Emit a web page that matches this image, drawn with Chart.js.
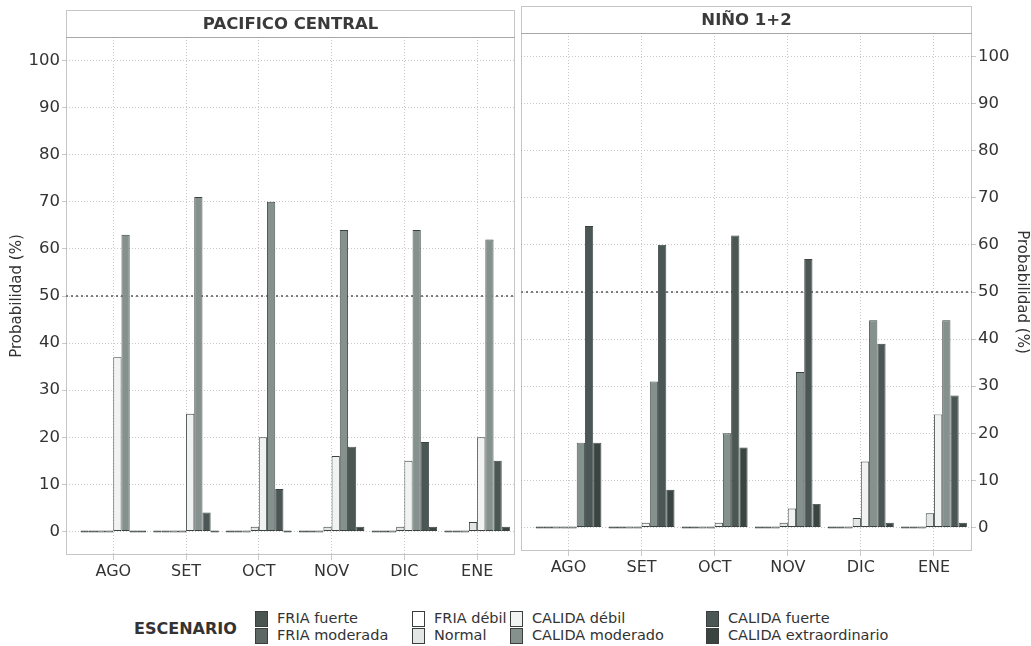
<!DOCTYPE html>
<html>
<head>
<meta charset="utf-8">
<script src="https://cdn.jsdelivr.net/npm/chart.js@4.4.0/dist/chart.umd.min.js"></script>
<style>
  body { margin: 0; background: #fff; width: 1031px; height: 646px; overflow: hidden; position: relative; font-family: "DejaVu Sans", sans-serif; color: #333; }
  #left { position: absolute; left: 0; top: 0; }
  #right { position: absolute; left: 520px; top: -4px; }
  #legTitle { position: absolute; left: 134px; top: 619px; font-weight: bold; font-size: 16px; }
  .legCol { position: absolute; top: 610px; display: flex; }
  .legBoxes { display: flex; flex-direction: column; margin-top: 1px; }
  .legBox { width: 11px; height: 14px; border: 1px solid #3a3f3e; margin-bottom: 1px; }
  .legText { margin-left: 9px; font-size: 14.5px; line-height: 17px; }
</style>
</head>
<body>
<canvas id="left" width="520" height="590"></canvas>
<canvas id="right" width="511" height="590"></canvas>
<div id="legTitle">ESCENARIO</div>
<div id="legend"></div>
<script>
const months = ["AGO", "SET", "OCT", "NOV", "DIC", "ENE"];
const scenarios = ["FRIA fuerte", "FRIA moderada", "FRIA débil", "Normal",
                   "CALIDA débil", "CALIDA moderado", "CALIDA fuerte", "CALIDA extraordinario"];
const yTicks = [0, 10, 20, 30, 40, 50, 60, 70, 80, 90, 100];

// Pacifico Central
const pcFriaFuerte    = [0, 0, 0, 0, 0, 0];
const pcFriaModerada  = [0, 0, 0, 0, 0, 0];
const pcFriaDebil     = [0, 0, 0, 0, 0, 0];
const pcNormal        = [0, 0, 1, 1, 1, 2];
const pcCalidaDebil   = [37, 25, 20, 16, 15, 20];
const pcCalidaModerado = [63, 71, 70, 64, 64, 62];
const pcCalidaFuerte  = [0, 4, 9, 18, 19, 15];
const pcCalidaExtra   = [0, 0, 0, 1, 1, 1];

// Niño 1+2
const n12FriaFuerte    = [0, 0, 0, 0, 0, 0];
const n12FriaModerada  = [0, 0, 0, 0, 0, 0];
const n12FriaDebil     = [0, 0, 0, 0, 0, 0];
const n12Normal        = [0, 0, 0, 1, 2, 3];
const n12CalidaDebil   = [0, 1, 1, 4, 14, 24];
const n12CalidaModerado = [18, 31, 20, 33, 44, 44];
const n12CalidaFuerte  = [64, 60, 62, 57, 39, 28];
const n12CalidaExtra   = [18, 8, 17, 5, 1, 1];

const colors = ["#4a5552", "#5d6865", "#ffffff", "#e2e6e4", "#f1f3f2", "#85918d", "#4b5754", "#3a4542"];

const decoPlugin = {
  id: "deco",
  beforeDatasetsDraw(chart) {
    const { ctx, chartArea: a, scales } = chart;
    const y50 = scales.y.getPixelForValue(50);
    ctx.save();
    ctx.strokeStyle = "#555";
    ctx.lineWidth = 1.6;
    ctx.setLineDash([2, 3]);
    ctx.beginPath();
    ctx.moveTo(a.left, y50);
    ctx.lineTo(a.right, y50);
    ctx.stroke();
    ctx.restore();
  },
  afterDraw(chart, args, opts) {
    const { ctx, chartArea: a } = chart;
    ctx.save();
    ctx.strokeStyle = "#8a8a8a";
    ctx.lineWidth = 1;
    ctx.setLineDash([1, 1]);
    ctx.strokeRect(a.left + 0.5, a.top + 0.5, a.right - a.left - 1, a.bottom - a.top - 1);
    ctx.strokeRect(a.left + 0.5, 10.5, a.right - a.left - 1, a.top - 10);
    ctx.setLineDash([]);
    ctx.fillStyle = "#3a3a3a";
    ctx.font = "bold 16.5px 'DejaVu Sans'";
    ctx.textAlign = "center";
    ctx.textBaseline = "middle";
    ctx.fillText(opts.title, (a.left + a.right) / 2, (10 + a.top) / 2 + 1);
    ctx.restore();
  }
};

function makeChart(id, title, series, side) {
  new Chart(document.getElementById(id), {
    type: "bar",
    data: {
      datasets: series.map((d, i) => ({
        label: scenarios[i],
        data: d.map((v, m) => ({ x: m, y: v })),
        backgroundColor: colors[i],
        borderColor: "#3a4341",
        borderWidth: 0.9,
        borderSkipped: false,
        minBarLength: 2,
        categoryPercentage: 0.9,
        barPercentage: 1.0
      }))
    },
    options: {
      responsive: false,
      animation: false,
      layout: { padding: { top: 37, right: side === "left" ? 5 : 0, left: side === "left" ? 0 : 1, bottom: 0 } },
      plugins: { legend: { display: false }, tooltip: { enabled: false }, deco: { title: title } },
      scales: {
        x: {
          type: "linear",
          offset: false,
          min: -0.65,
          max: months.length - 0.48,
          afterBuildTicks: s => { s.ticks = months.map((m, i) => ({ value: i })); },
          grid: { offset: false, color: "#c9c9c9", tickLength: 5 },
          border: { display: false, dash: [1, 2] },
          ticks: { color: "#333", font: { family: "DejaVu Sans", size: 16 }, padding: 2, maxRotation: 0,
                   callback: v => months[v] },
          afterFit: s => { s.height = 35; }
        },
        y: {
          position: side,
          min: -5,
          max: 105,
          afterBuildTicks: s => { s.ticks = yTicks.map(v => ({ value: v })); },
          afterFit: s => { s.width = side === "left" ? 66 : 59; },
          grid: { color: "#c9c9c9", tickLength: 4 },
          border: { display: false, dash: [1, 2] },
          ticks: { color: "#333", font: { family: "DejaVu Sans", size: 16.5 }, padding: 2 },
          title: { display: true, text: "Probabilidad (%)", color: "#333", font: { family: "DejaVu Sans", size: 15 },
                   padding: side === "left" ? { top: 8, bottom: 0 } : { top: 0, bottom: 6 } }
        }
      }
    },
    plugins: [decoPlugin]
  });
}

makeChart("left", "PACIFICO CENTRAL",
  [pcFriaFuerte, pcFriaModerada, pcFriaDebil, pcNormal, pcCalidaDebil, pcCalidaModerado, pcCalidaFuerte, pcCalidaExtra], "left");
makeChart("right", "NIÑO 1+2",
  [n12FriaFuerte, n12FriaModerada, n12FriaDebil, n12Normal, n12CalidaDebil, n12CalidaModerado, n12CalidaFuerte, n12CalidaExtra], "right");

// legend: four columns of two entries
const legCols = [255, 412, 510, 706];
const legend = document.getElementById("legend");
legCols.forEach((x, c) => {
  const col = document.createElement("div");
  col.className = "legCol";
  col.style.left = x + "px";
  const boxes = document.createElement("div");
  boxes.className = "legBoxes";
  const text = document.createElement("div");
  text.className = "legText";
  [2 * c, 2 * c + 1].forEach(i => {
    const b = document.createElement("div");
    b.className = "legBox";
    b.style.background = colors[i];
    boxes.appendChild(b);
    const t = document.createElement("div");
    t.textContent = scenarios[i];
    text.appendChild(t);
  });
  col.appendChild(boxes);
  col.appendChild(text);
  legend.appendChild(col);
});
</script>
</body>
</html>
